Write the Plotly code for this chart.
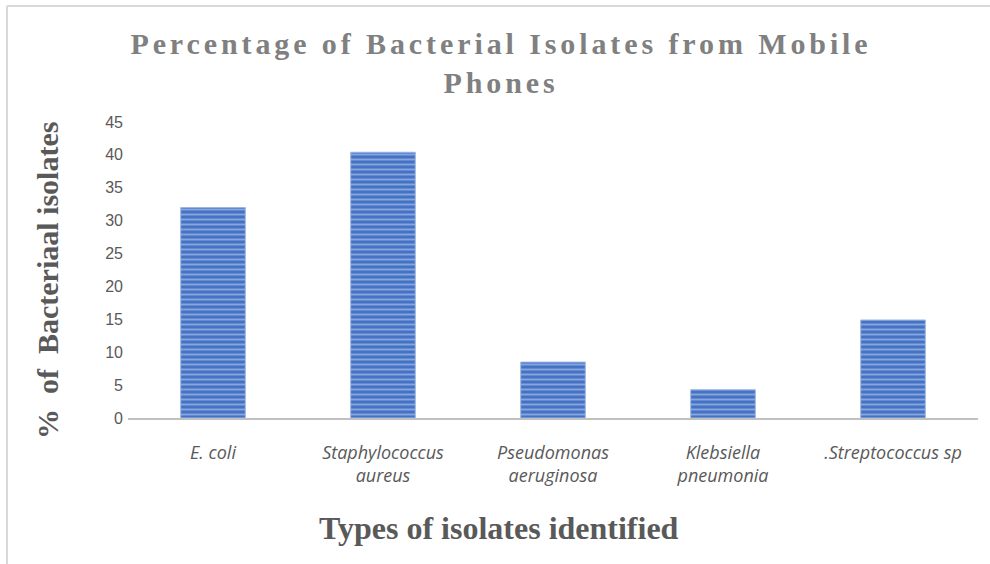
import plotly.graph_objects as go

categories = ["E. coli", "Staphylococcus<br>aureus", "Pseudomonas<br>aeruginosa",
              "Klebsiella<br>pneumonia", ".Streptococcus sp"]
percentages = [32.0, 40.4, 8.5, 4.3, 14.9]
y_ticks = [0, 5, 10, 15, 20, 25, 30, 35, 40, 45]

title_text = ('<span style="letter-spacing:3.9px">Percentage of Bacterial Isolates from Mobile'
              '<br>Phones</span>')

fig = go.Figure()
fig.add_trace(go.Bar(
    x=categories,
    y=percentages,
    width=0.38,
    marker=dict(
        color="#4472C4",
        line=dict(color="#9DB5E3", width=1),
        pattern=dict(shape="-", fgcolor="#CCD9F1", bgcolor="#4472C4",
                     size=5, solidity=0.38, fillmode="overlay"),
    ),
    hoverinfo="x+y",
))

W, H = 990, 564
ml, mr, mt, mb = 128, 12, 122, 146
pw = W - ml - mr
ph = H - mt - mb

def px_x(p):
    return (p - ml) / pw

def px_y(p):
    return (H - mb - p) / ph

fig.update_layout(
    width=W, height=H,
    margin=dict(l=ml, r=mr, t=mt, b=mb),
    paper_bgcolor="white", plot_bgcolor="white",
    showlegend=False,
    title=dict(
        text=title_text,
        x=501 / W, xref="container", xanchor="center",
        y=1 - 54 / H, yref="container", yanchor="top",
        font=dict(family="Liberation Serif", size=30, color="#808080", weight="bold"),
    ),
    xaxis=dict(
        tickfont=dict(family="Open Sans", size=18, color="#595959", style="italic"),
        showgrid=False,
        showline=True, linecolor="#C0C0C0", linewidth=2,
        ticks="", ticklabelstandoff=17,
        fixedrange=True,
    ),
    yaxis=dict(
        range=[0, 45],
        tickvals=y_ticks,
        tickfont=dict(family="Liberation Sans", size=16, color="#595959"),
        showgrid=False, zeroline=False, showline=False,
        ticks="", ticklabelstandoff=4,
        fixedrange=True,
    ),
    annotations=[
        dict(text="Types of isolates identified",
             xref="paper", yref="paper",
             x=px_x(499), y=px_y(528), xanchor="center", yanchor="middle",
             showarrow=False,
             font=dict(family="Liberation Serif", size=32, color="#595959", weight="bold")),
        dict(text="%  of  Bacteriaal isolates",
             xref="paper", yref="paper",
             x=px_x(47), y=px_y(281), xanchor="center", yanchor="middle",
             textangle=-90, showarrow=False,
             font=dict(family="Liberation Serif", size=30, color="#595959", weight="bold")),
    ],
    shapes=[
        dict(type="line", xref="paper", yref="paper",
             x0=px_x(7), x1=px_x(7), y0=px_y(6), y1=px_y(570),
             line=dict(color="#D9D9D9", width=2)),
        dict(type="line", xref="paper", yref="paper",
             x0=px_x(7), x1=px_x(1000), y0=px_y(6), y1=px_y(6),
             line=dict(color="#D9D9D9", width=2)),
    ],
)

fig.write_html("out.html", config={"displayModeBar": False},
               post_script="document.body.style.margin='0';document.body.style.overflow='hidden';")
